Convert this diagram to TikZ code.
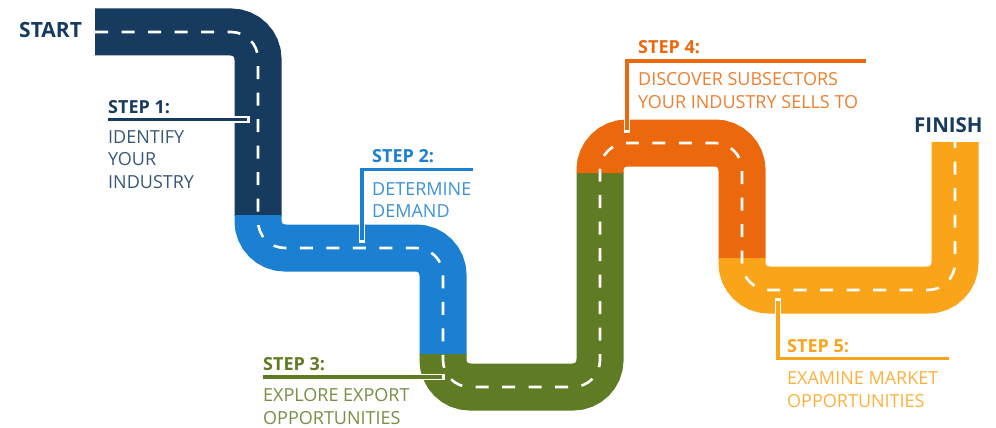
\documentclass[tikz,border=0pt]{standalone}
\usepackage{fontspec}
\setmainfont{Open Sans}
\definecolor{navy}{RGB}{22,59,95}
\definecolor{stepblue}{RGB}{27,127,210}
\definecolor{olive}{RGB}{95,123,36}
\definecolor{rust}{RGB}{235,104,12}
\definecolor{amber}{RGB}{250,164,26}
\tikzset{
  road/.style={line width=47pt,rounded corners=27pt},
  lane/.style={white,line width=2.6pt,dash pattern=on 13pt off 13.5pt,rounded corners=27pt},
  head/.style={anchor=base west,inner sep=0pt,font=\fontsize{18}{22}\selectfont\bfseries},
  desc/.style={anchor=base west,inner sep=0pt,align=left,font=\fontsize{18}{22.5}\selectfont},
  pin/.style={line width=3.5pt},
  halo/.style={white,line width=6.5pt,line cap=rect}
}
\begin{document}
\begin{tikzpicture}[x=1pt,y=-1pt]
\useasboundingbox (0,0) rectangle (996,428);

\draw[road,navy] (95,32) -- (258,32) -- (258,216);
\draw[road,stepblue] (258,215) -- (258,248) -- (443,248) -- (443,355);
\draw[road,olive] (443,354) -- (443,387) -- (600,387) -- (600,172);
\draw[road,rust] (600,173) -- (600,143) -- (742,143) -- (742,259);
\draw[road,amber] (742,258) -- (742,290) -- (955,290) -- (955,142);
\draw[lane] (95,32) -- (258,32) -- (258,248) -- (443,248) -- (443,387) -- (600,387)
  -- (600,143) -- (742,143) -- (742,290) -- (955,290) -- (955,142);

\node[head,navy,font=\fontsize{21}{24}\selectfont\bfseries] (start) at (19,38) {START};
\node[head,navy,font=\fontsize{20.5}{24}\selectfont\bfseries] (finish) at (914,132) {FINISH};

\node[head,navy] (s1) at (108,113) {STEP 1:};
\node[desc,navy!85] (d1) at (108,188) {IDENTIFY\\YOUR\\INDUSTRY};
\coordinate (r1) at (247,119.5);
\draw[halo] (r1) -- ++(-12,0);
\draw[pin,navy] (r1) -- (r1 -| s1.west);

\node[head,stepblue] (s2) at (372,162) {STEP 2:};
\node[desc,stepblue!85] (d2) at (372,217.5) {DETERMINE\\DEMAND};
\coordinate (r2) at (362,240);
\coordinate (k2) at (362,169.5);
\coordinate (e2) at (473,169.5);
\draw[halo] (r2) -- ++(0,-14);
\draw[pin,stepblue] (r2) -- (k2) -- (e2);

\node[head,olive] (s3) at (263,370) {STEP 3:};
\node[desc,olive!85] (d3) at (263,424) {EXPLORE EXPORT\\OPPORTUNITIES};
\coordinate (r3) at (442,377);
\draw[halo] (r3) -- ++(-20,0);
\draw[pin,olive] (r3) -- (r3 -| s3.west);

\node[head,rust] (s4) at (638,54) {STEP 4:};
\node[desc,rust!85] (d4) at (638,108) {DISCOVER SUBSECTORS\\YOUR INDUSTRY SELLS TO};
\coordinate (r4) at (627,130);
\coordinate (k4) at (627,61);
\coordinate (e4) at (866,61);
\draw[halo] (r4) -- ++(0,-10);
\draw[pin,rust] (r4) -- (k4) -- (e4);

\node[head,amber] (s5) at (787,352) {STEP 5:};
\node[desc,amber!85] (d5) at (787,407) {EXAMINE MARKET\\OPPORTUNITIES};
\coordinate (r5) at (778,301);
\coordinate (k5) at (778,358.5);
\coordinate (e5) at (949,358.5);
\draw[halo] (r5) -- ++(0,10);
\draw[pin,amber] (r5) -- (k5) -- (e5);
\end{tikzpicture}
\end{document}
